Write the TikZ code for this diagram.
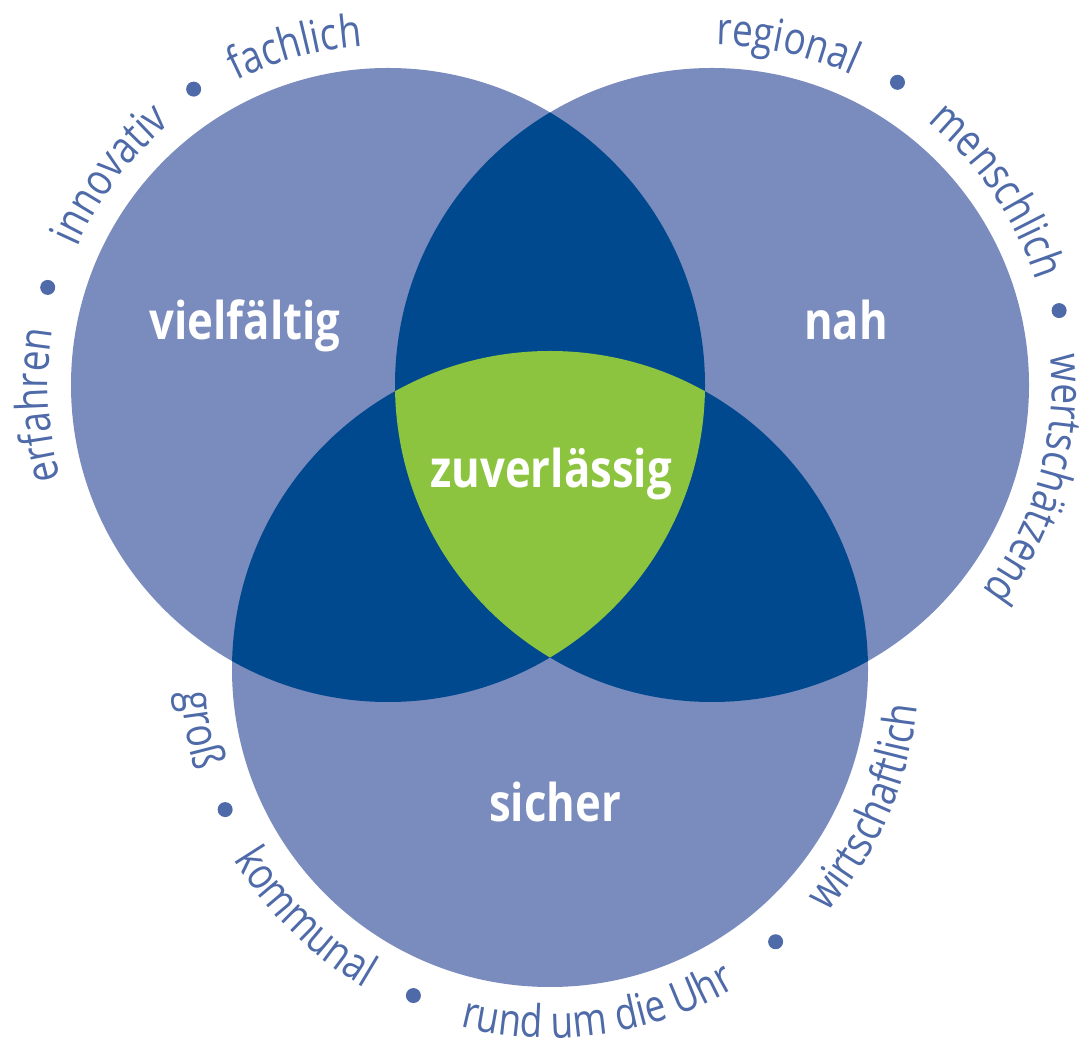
\documentclass[tikz,border=0pt]{standalone}
\usepackage{fontspec}
\usetikzlibrary{decorations.text,calc}
\newfontfamily\ringfont[FakeStretch=0.82]{Open Sans}
\newfontfamily\labelfont[FakeStretch=0.84]{Open Sans}
\definecolor{lightblue}{RGB}{122,139,189}
\definecolor{darkblue}{RGB}{0,73,143}
\definecolor{limegreen}{RGB}{140,196,63}
\definecolor{ringblue}{RGB}{78,106,168}
\newcommand\ringstyle{\ringfont\fontsize{45}{45}\selectfont}
\begin{document}
\begin{tikzpicture}[x=1pt,y=1pt,
  ringtext/.style={decorate,decoration={text along path,text align=center,
      text color=ringblue,text={|\ringstyle|#1}}},
  dot/.style={circle,fill=ringblue,inner sep=0pt,minimum size=15pt},
  biglabel/.style={text=white,font=\labelfont\bfseries\fontsize{52}{52}\selectfont,
      anchor=base,inner sep=0pt}]
\useasboundingbox (0,0) rectangle (1083,1046);
\coordinate (c1) at (388,661);
\coordinate (c2) at (712,661);
\coordinate (c3) at (550,377);
% circles
\fill[lightblue] (c1) circle[radius=317];
\fill[lightblue] (c2) circle[radius=317];
\fill[lightblue] (c3) circle[radius=318];
\begin{scope}
  \clip (c1) circle[radius=317];
  \fill[darkblue] (c2) circle[radius=317];
  \fill[darkblue] (c3) circle[radius=318];
\end{scope}
\begin{scope}
  \clip (c2) circle[radius=317];
  \fill[darkblue] (c3) circle[radius=318];
\end{scope}
\begin{scope}
  \clip (c1) circle[radius=317];
  \clip (c2) circle[radius=317];
  \fill[limegreen] (c3) circle[radius=318];
\end{scope}
% labels
\node[biglabel] (vielfaeltig) at (245,706) {vielfältig};
\node[biglabel] (nah) at (846,706) {nah};
\node[biglabel] (zuverlaessig) at (551,558) {zuverlässig};
\node[biglabel] (sicher) at (555,224) {sicher};
% left ring text
\path[ringtext=erfahren] ($(c1)+(213.3:340)$) arc[start angle=213.3,end angle=153.3,radius=340];
\path[ringtext=innovativ] ($(c1)+(172.9:340)$) arc[start angle=172.9,end angle=112.9,radius=340];
\path[ringtext=fachlich] ($(c1)+(135.4:340)$) arc[start angle=135.4,end angle=75.4,radius=340];
\node[dot] (l1) at ($(c1)+(164:354)$) {};
\node[dot] (l2) at ($(c1)+(123.3:354)$) {};
% right ring text
\path[ringtext=regional] ($(c2)+(107.5:340)$) arc[start angle=107.5,end angle=47.5,radius=340];
\path[ringtext=menschlich] ($(c2)+(64.3:340)$) arc[start angle=64.3,end angle=4.3,radius=340];
\path[ringtext=wertschätzend] ($(c2)+(13.9:340)$) arc[start angle=13.9,end angle=-46.1,radius=340];
\node[dot] (r1) at ($(c2)+(58.5:355)$) {};
\node[dot] (r2) at ($(c2)+(12.1:355)$) {};
% bottom ring text
\path[ringtext=groß] ($(c3)+(159.9:369)$) arc[start angle=159.9,end angle=219.9,radius=369];
\path[ringtext=kommunal] ($(c3)+(195.4:369)$) arc[start angle=195.4,end angle=255.4,radius=369];
\path[ringtext={rund um die Uhr}] ($(c3)+(248.1:369)$) arc[start angle=248.1,end angle=308.1,radius=369];
\path[ringtext=wirtschaftlich] ($(c3)+(306.5:369)$) arc[start angle=306.5,end angle=366.5,radius=369];
\node[dot] (d1) at ($(c3)+(203.4:354)$) {};
\node[dot] (d2) at ($(c3)+(247.3:354)$) {};
\node[dot] (d3) at ($(c3)+(309.6:354)$) {};
\end{tikzpicture}
\end{document}
